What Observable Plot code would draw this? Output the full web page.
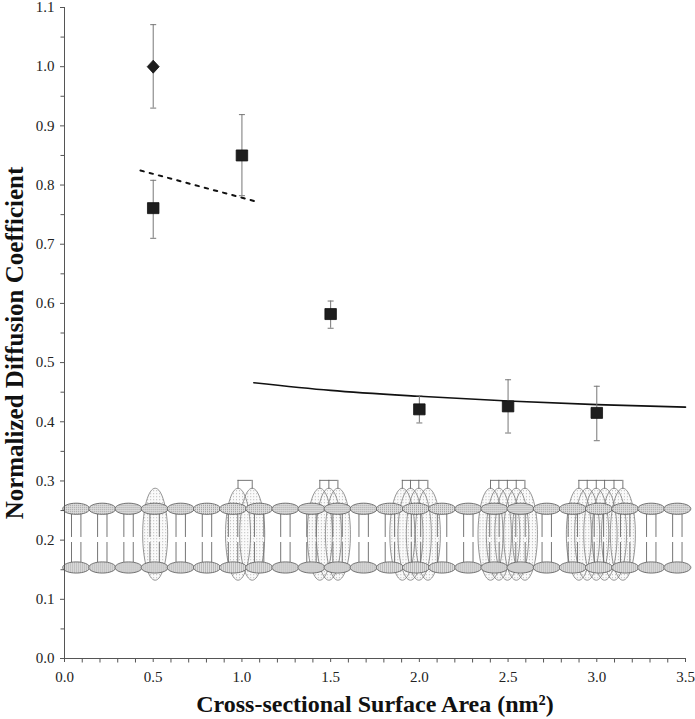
<!DOCTYPE html>
<html>
<head>
<meta charset="utf-8">
<script src="https://cdn.jsdelivr.net/npm/d3@7"></script>
<script src="https://cdn.jsdelivr.net/npm/@observablehq/plot@0.6"></script>
<style>
  html, body { margin: 0; padding: 0; background: #fff; }
  #chart svg { display: block; }
</style>
</head>
<body>
<div id="chart"></div>
<script>
// ---- measured data ----
const squareX  = [0.5, 1.0, 1.5, 2.0, 2.5, 3.0];
const squareY  = [0.761, 0.850, 0.582, 0.421, 0.426, 0.415];
const squareLo = [0.710, 0.782, 0.558, 0.398, 0.381, 0.368];
const squareHi = [0.808, 0.919, 0.604, 0.444, 0.471, 0.460];

const diamondX  = [0.5];
const diamondY  = [1.0];
const diamondLo = [0.930];
const diamondHi = [1.071];

const dashedX = [0.428, 1.07];
const dashedY = [0.8246, 0.773];

const solidX = [1.067, 1.5, 2.0, 2.5, 3.0, 3.5];
const solidY = [0.466, 0.453, 0.443, 0.435, 0.429, 0.4247];

// tick values
const xTicks = [0, 0.5, 1.0, 1.5, 2.0, 2.5, 3.0, 3.5];
const xMinorTicks = [0.1,0.2,0.3,0.4,0.6,0.7,0.8,0.9,1.1,1.2,1.3,1.4,1.6,1.7,1.8,1.9,2.1,2.2,2.3,2.4,2.6,2.7,2.8,2.9,3.1,3.2,3.3,3.4];
const yTicks = [0, 0.1, 0.2, 0.3, 0.4, 0.5, 0.6, 0.7, 0.8, 0.9, 1.0, 1.1];
const yMinorTicks = [0.05,0.15,0.25,0.35,0.45,0.55,0.65,0.75,0.85,0.95,1.05];

// membrane illustration (positions, data units)
const lipidX = [0.066, 0.213, 0.361, 0.508, 0.655, 0.803, 0.950, 1.097, 1.245, 1.392, 1.539, 1.686,
                1.834, 1.981, 2.128, 2.276, 2.423, 2.570, 2.718, 2.865, 3.012, 3.160, 3.307, 3.454];
const headLevels = [0.253, 0.1538];          // upper / lower head-group rows
const tailUpper = [0.245, 0.2045];           // upper tail segment
const tailLower = [0.196, 0.162];            // lower tail segment
const proteinSubunits = [
  [0.511],
  [0.978, 1.058],
  [1.439, 1.490, 1.541],
  [1.904, 1.950, 1.997, 2.048],
  [2.401, 2.448, 2.496, 2.546, 2.595],
  [2.899, 2.946, 2.997, 3.044, 3.097, 3.147]
];
const proteinCenterY = 0.21;
const bracketTop = 0.301;
const bracketBottom = 0.286;

// ---- derived tables ----
const squares = squareX.map((x, i) => ({x, y: squareY[i], lo: squareLo[i], hi: squareHi[i]}));
const diamonds = diamondX.map((x, i) => ({x, y: diamondY[i], lo: diamondLo[i], hi: diamondHi[i]}));
const points = squares.concat(diamonds);
const dashed = dashedX.map((x, i) => ({x, y: dashedY[i]}));
const solid = solidX.map((x, i) => ({x, y: solidY[i]}));
const subunits = proteinSubunits.flatMap((g) => g.map((x) => ({x, y: proteinCenterY})));
const brackets = proteinSubunits.filter((g) => g.length > 1).map((g) => ({x1: g[0], x2: g[g.length - 1]}));
const bracketLegs = proteinSubunits.filter((g) => g.length > 1).flat();
const heads = headLevels.flatMap((y) => lipidX.map((x) => ({x, y})));

// ---- symbols (pixel shapes) ----
const K = 0.5523;
const ellipse = (rx, ry) => ({
  draw(ctx) {
    ctx.moveTo(rx, 0);
    ctx.bezierCurveTo(rx, ry * K, rx * K, ry, 0, ry);
    ctx.bezierCurveTo(-rx * K, ry, -rx, ry * K, -rx, 0);
    ctx.bezierCurveTo(-rx, -ry * K, -rx * K, -ry, 0, -ry);
    ctx.bezierCurveTo(rx * K, -ry, rx, -ry * K, rx, 0);
    ctx.closePath();
  }
});
const rectSym = (w, h) => ({
  draw(ctx) { ctx.moveTo(-w/2, -h/2); ctx.lineTo(w/2, -h/2); ctx.lineTo(w/2, h/2); ctx.lineTo(-w/2, h/2); ctx.closePath(); }
});
const diamondSym = (w, h) => ({
  draw(ctx) { ctx.moveTo(0, -h/2); ctx.lineTo(w/2, 0); ctx.lineTo(0, h/2); ctx.lineTo(-w/2, 0); ctx.closePath(); }
});
const capSym = (w) => ({
  draw(ctx) { ctx.moveTo(-w/2, 0); ctx.lineTo(w/2, 0); }
});
const vTickSym = (h) => ({
  draw(ctx) { ctx.moveTo(0, 0); ctx.lineTo(0, h); }
});
const hTickSym = (w) => ({
  draw(ctx) { ctx.moveTo(0, 0); ctx.lineTo(-w, 0); }
});

const serif = "'Liberation Serif', 'Times New Roman', serif";
const axisGray = "#555";
const lipidStroke = "#666";

const chart = Plot.plot({
  width: 695,
  height: 719,
  marginLeft: 64,
  marginRight: 10,
  marginTop: 7,
  marginBottom: 61,
  style: {fontFamily: serif, fontSize: "15px", color: "#222", background: "#fff"},
  x: {domain: [0, 3.5]},
  y: {domain: [0, 1.1]},
  marks: [
    // membrane: protein subunits (fill first, then outlines)
    Plot.dot(subunits, {x: "x", y: "y", r: 1, symbol: ellipse(12.5, 46), fill: "url(#protPat)", stroke: "none"}),
    Plot.dot(subunits, {x: "x", y: "y", r: 1, symbol: ellipse(12.5, 46), fill: "none", stroke: "#7a7a7a", strokeWidth: 0.8}),
    Plot.ruleY(brackets, {x1: "x1", x2: "x2", y: bracketTop, stroke: "#666", strokeWidth: 0.9}),
    Plot.ruleX(bracketLegs, {x: (d) => d, y1: bracketBottom, y2: bracketTop, stroke: "#666", strokeWidth: 0.9}),
    // lipid tails
    Plot.ruleX(lipidX, {x: (d) => d, y1: tailUpper[0], y2: tailUpper[1], dx: -4.7, stroke: lipidStroke, strokeWidth: 0.9}),
    Plot.ruleX(lipidX, {x: (d) => d, y1: tailUpper[0], y2: tailUpper[1], dx: 4.7, stroke: lipidStroke, strokeWidth: 0.9}),
    Plot.ruleX(lipidX, {x: (d) => d, y1: tailLower[0], y2: tailLower[1], dx: -4.7, stroke: lipidStroke, strokeWidth: 0.9}),
    Plot.ruleX(lipidX, {x: (d) => d, y1: tailLower[0], y2: tailLower[1], dx: 4.7, stroke: lipidStroke, strokeWidth: 0.9}),
    // lipid heads
    Plot.dot(heads, {x: "x", y: "y", r: 1, symbol: ellipse(13.5, 5.6), fill: "url(#headPat)", stroke: "#555", strokeWidth: 0.8}),

    // axes: minor ticks as tick symbols, major ticks with labels
    Plot.dot(xMinorTicks, {x: (d) => d, y: 0, r: 1, symbol: vTickSym(4), fill: "none", stroke: axisGray, strokeWidth: 1}),
    Plot.dot(yMinorTicks, {x: 0, y: (d) => d, r: 1, symbol: hTickSym(4), fill: "none", stroke: axisGray, strokeWidth: 1}),
    Plot.axisX({ticks: xTicks, tickSize: 4, tickPadding: 9, tickFormat: d3.format(".1f"), stroke: axisGray, fontSize: 15, fontFamily: serif, fill: "#222", label: null}),
    Plot.axisY({ticks: yTicks, tickSize: 4, tickPadding: 6, tickFormat: d3.format(".1f"), stroke: axisGray, fontSize: 15, fontFamily: serif, fill: "#222", label: null}),
    Plot.ruleX([0], {stroke: axisGray, strokeWidth: 1}),
    Plot.ruleY([0], {stroke: axisGray, strokeWidth: 1}),

    // fits
    Plot.line(dashed, {x: "x", y: "y", stroke: "#111", strokeWidth: 2, strokeDasharray: "3.5,6"}),
    Plot.line(solid, {x: "x", y: "y", stroke: "#111", strokeWidth: 1.6, curve: "monotone-x"}),

    // error bars
    Plot.ruleX(points, {x: "x", y1: "lo", y2: "hi", stroke: "#777", strokeWidth: 1}),
    Plot.dot(points, {x: "x", y: "lo", r: 1, symbol: capSym(6), fill: "none", stroke: "#777", strokeWidth: 1}),
    Plot.dot(points, {x: "x", y: "hi", r: 1, symbol: capSym(6), fill: "none", stroke: "#777", strokeWidth: 1}),

    // markers
    Plot.dot(squares, {x: "x", y: "y", r: 1, symbol: rectSym(11.5, 11), fill: "#1e1e1e", stroke: "#111", strokeWidth: 0.8}),
    Plot.dot(diamonds, {x: "x", y: "y", r: 1, symbol: diamondSym(12, 13), fill: "#1e1e1e", stroke: "#111", strokeWidth: 0.8}),

    // axis titles
    Plot.text(["Cross-sectional Surface Area (nm²)"], {frameAnchor: "bottom", textAnchor: "middle", lineAnchor: "bottom", dy: 53, fontSize: 24, fontWeight: "bold", fontFamily: serif, fill: "#111"}),
    Plot.text(["Normalized Diffusion Coefficient"], {frameAnchor: "left", textAnchor: "middle", lineAnchor: "middle", dx: -50, dy: 10, rotate: -90, fontSize: 25, fontWeight: "bold", fontFamily: serif, fill: "#111"})
  ]
});

// stipple patterns used as fills
const svg = d3.select(chart);
const defs = svg.insert("defs", ":first-child");
const hp = defs.append("pattern").attr("id", "headPat").attr("patternUnits", "userSpaceOnUse").attr("width", 2).attr("height", 2);
hp.append("rect").attr("width", 2).attr("height", 2).attr("fill", "#e0e0e0");
hp.append("rect").attr("width", 1).attr("height", 1).attr("fill", "#949494");
const pp = defs.append("pattern").attr("id", "protPat").attr("patternUnits", "userSpaceOnUse").attr("width", 3).attr("height", 3);
pp.append("rect").attr("width", 3).attr("height", 3).attr("fill", "#fafafa");
pp.append("rect").attr("x", 1).attr("y", 1).attr("width", 1).attr("height", 1).attr("fill", "#b4b4b4");

document.getElementById("chart").appendChild(chart);
</script>
</body>
</html>
